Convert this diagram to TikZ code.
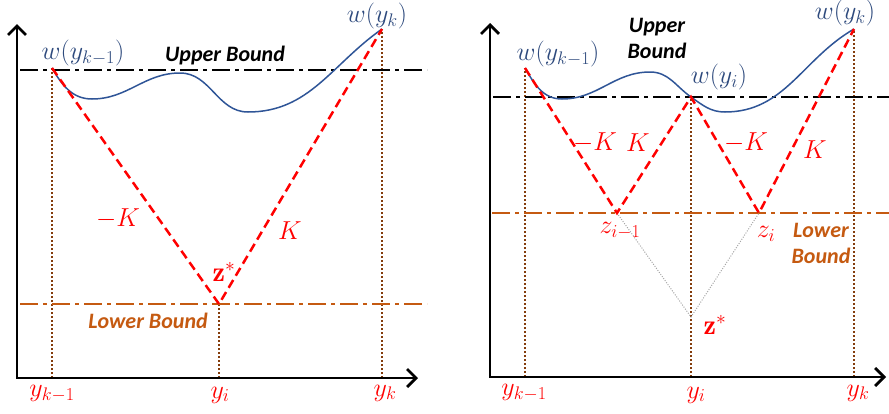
\RequirePackage{fix-cm}
\documentclass[tikz,border=0pt]{standalone}
\usepackage{fontspec}
\newfontfamily\calib{Carlito}
\usetikzlibrary{arrows.meta}
\definecolor{curveblue}{HTML}{2F5597}
\definecolor{wtext}{HTML}{2E4A7D}
\definecolor{lbcol}{HTML}{C55A11}
\definecolor{guidecol}{HTML}{843C0C}
\definecolor{kred}{HTML}{FF0000}
\newcommand\mfs{\fontsize{26}{30}\selectfont}
\newcommand\zfs{\fontsize{28}{32}\selectfont}
\newcommand\bfs{\calib\bfseries\itshape\fontsize{22}{26}\selectfont}
\begin{document}
\begin{tikzpicture}[x=1pt,y=-1pt,
  axis/.style={line width=2.8pt,{Straight Barb[length=9pt,width=18pt]}-{Straight Barb[length=9pt,width=18pt]}},
  ubound/.style={black,line width=2pt,dash pattern=on 18pt off 5pt on 4pt off 5pt},
  lbound/.style={lbcol,line width=2pt,dash pattern=on 18pt off 5pt on 4pt off 5pt},
  guide/.style={guidecol,line width=2pt,dash pattern=on 2pt off 2pt},
  kline/.style={kred,line width=2.5pt,dash pattern=on 9pt off 5pt},
  fcurve/.style={curveblue,line width=1.5pt},
  zline/.style={gray!70,line width=1pt,dash pattern=on 1pt off 1.5pt},
  wlab/.style={wtext,font=\mfs,inner sep=0pt},
  rlab/.style={kred,font=\mfs,inner sep=0pt},
  zlab/.style={kred,font=\zfs,inner sep=0pt},
  btext/.style={font=\bfs,inner sep=0pt,align=center}]
\useasboundingbox (0,0) rectangle (889,413);

% ---------- left panel ----------
\coordinate (O1) at (17,378);
\coordinate (Y1) at (17,24);
\coordinate (X1) at (418,378);
\coordinate (A1) at (52,68);
\coordinate (B1) at (382,29);
\coordinate (Z1) at (219,304);
\coordinate (A1b) at (52,378);
\coordinate (Z1b) at (219,378);
\coordinate (B1b) at (382,378);
\coordinate (U1s) at (20,70);
\coordinate (U1e) at (427,70);
\coordinate (L1s) at (20,304);
\coordinate (L1e) at (427,304);

\draw[guide] (A1b) -- (A1);
\draw[guide] (Z1b) -- (Z1);
\draw[guide] (B1b) -- (B1);
\draw[ubound] (U1s) -- (U1e);
\draw[lbound] (L1s) -- (L1e);
\draw[fcurve] (A1) to[out=-60,in=180] (92,99) to[out=0,in=180] (180,73)
  to[out=0,in=180] (248,112) to[out=0,in=-145] (B1);
\draw[kline] (A1) -- (Z1) -- (B1);
\draw[axis] (Y1) -- (O1) -- (X1);

\node[wlab] (wA1) at (83,53) {$w(y_{k-1})$};
\node[wlab] (wB1) at (377,16) {$w(y_k)$};
\node[btext,anchor=base] (ub1) at (225,61) {Upper Bound};
\node[btext,anchor=base,lbcol] (lb1) at (148,328) {Lower Bound};
\node[rlab] (mk1) at (118,219) {$-K$};
\node[rlab] (k1) at (290,231) {$K$};
\node[zlab] (zs1) at (224,272) {$\mathbf{z}^*$};
\node[rlab] (ya1) at (52,394) {$y_{k-1}$};
\node[rlab] (yi1) at (220,395) {$y_i$};
\node[rlab] (yk1) at (385,393) {$y_k$};

% ---------- right panel ----------
\coordinate (O2) at (490,377);
\coordinate (Y2) at (490,23);
\coordinate (X2) at (886,377);
\coordinate (A2) at (525,68);
\coordinate (C2) at (691,97);
\coordinate (B2) at (854,29);
\coordinate (P2) at (617,213);
\coordinate (Q2) at (759,213);
\coordinate (Z2) at (691,317);
\coordinate (A2b) at (525,377);
\coordinate (C2b) at (691,377);
\coordinate (B2b) at (854,377);
\coordinate (U2s) at (493,97);
\coordinate (U2e) at (889,97);
\coordinate (L2s) at (492,213);
\coordinate (L2e) at (889,213);

\draw[guide] (A2b) -- (A2);
\draw[guide] (C2b) -- (C2);
\draw[guide] (B2b) -- (B2);
\draw[ubound] (U2s) -- (U2e);
\draw[lbound] (L2s) -- (L2e);
\draw[zline] (P2) -- (Z2) -- (Q2);
\draw[fcurve] (A2) to[out=-60,in=180] (562,99) to[out=0,in=180] (650,72)
  to[out=0,in=145] (C2) to[out=-35,in=180] (725,112) to[out=0,in=-150] (B2);
\draw[kline] (A2) -- (P2) -- (C2) -- (Q2) -- (B2);
\draw[axis] (Y2) -- (O2) -- (X2);

\node[wlab] (wA2) at (558,54) {$w(y_{k-1})$};
\node[wlab] (wC2) at (719,77) {$w(y_i)$};
\node[wlab] (wB2) at (845,13) {$w(y_k)$};
\node[btext] (ub2) at (657,38) {Upper\\Bound};
\node[btext,lbcol] (lb2) at (821,243) {Lower\\Bound};
\node[rlab] (mk2a) at (595,143) {$-K$};
\node[rlab] (k2a) at (638,143) {$K$};
\node[rlab] (mk2b) at (746,143) {$-K$};
\node[rlab] (k2b) at (815,150) {$K$};
\node[rlab] (zp2) at (620,231) {$z_{i-1}$};
\node[rlab] (zq2) at (766,234) {$z_i$};
\node[zlab] (zs2) at (715,325) {$\mathbf{z}^*$};
\node[rlab] (ya2) at (524,393) {$y_{k-1}$};
\node[rlab] (yi2) at (696,395) {$y_i$};
\node[rlab] (yk2) at (858,393) {$y_k$};
\end{tikzpicture}
\end{document}
